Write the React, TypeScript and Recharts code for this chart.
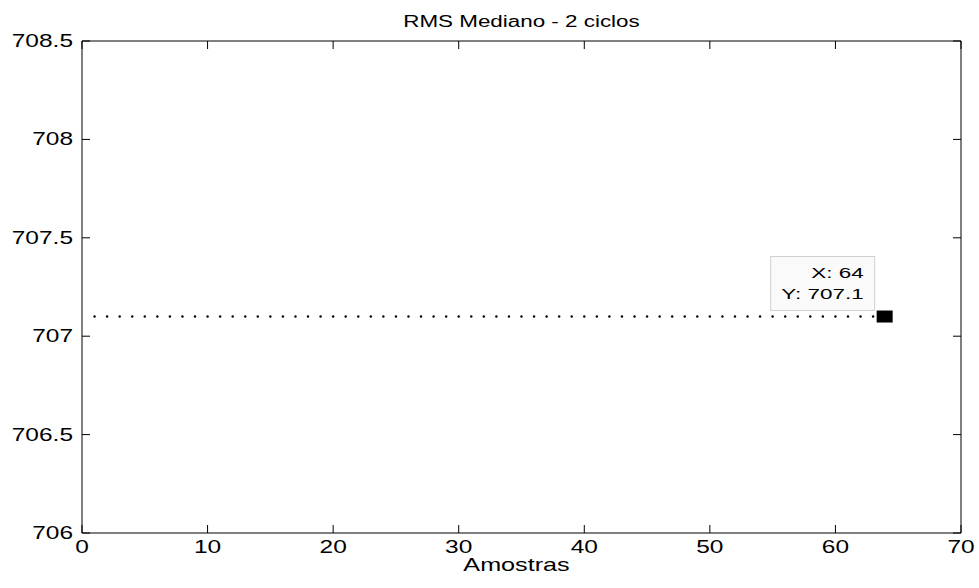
import { LineChart, Line, XAxis, YAxis, ReferenceDot } from "recharts";

// RMS value per sample (2-cycle median window)
const rmsValues = [
  707.1, 707.1, 707.1, 707.1, 707.1, 707.1, 707.1, 707.1,
  707.1, 707.1, 707.1, 707.1, 707.1, 707.1, 707.1, 707.1,
  707.1, 707.1, 707.1, 707.1, 707.1, 707.1, 707.1, 707.1,
  707.1, 707.1, 707.1, 707.1, 707.1, 707.1, 707.1, 707.1,
  707.1, 707.1, 707.1, 707.1, 707.1, 707.1, 707.1, 707.1,
  707.1, 707.1, 707.1, 707.1, 707.1, 707.1, 707.1, 707.1,
  707.1, 707.1, 707.1, 707.1, 707.1, 707.1, 707.1, 707.1,
  707.1, 707.1, 707.1, 707.1, 707.1, 707.1, 707.1, 707.1,
];
const xTicks = [0, 10, 20, 30, 40, 50, 60, 70];
const yTicks = [706, 706.5, 707, 707.5, 708, 708.5];
const tipX = 64;
const tipY = 707.1;

const data = rmsValues.map((v, i) => ({ sample: i + 1, rms: v }));

const W = 979;
const H = 588;
const PLOT_L = 82;
const PLOT_T = 41;
const PLOT_W = 879;
const PLOT_H = 492;
const PLOT_B = PLOT_T + PLOT_H;
const PLOT_R = PLOT_L + PLOT_W;
const TICK_LEN = 8;
const FONT = "'Liberation Sans', Arial, sans-serif";
const STRETCH = 1.4;

const YTick = (props: any) => {
  const { y, payload } = props;
  return (
    <g>
      <line x1={PLOT_L} x2={PLOT_L + TICK_LEN} y1={y} y2={y} stroke="#000" />
      <line x1={PLOT_R - TICK_LEN} x2={PLOT_R} y1={y} y2={y} stroke="#000" />
      <text
        transform={`translate(${PLOT_L - 9},${y + 6}) scale(${STRETCH},1)`}
        textAnchor="end"
        fontFamily={FONT}
        fontSize={17.5}
        fill="#000"
      >
        {payload.value}
      </text>
    </g>
  );
};

const XTick = (props: any) => {
  const { x, payload } = props;
  return (
    <g>
      <line x1={x} x2={x} y1={PLOT_B} y2={PLOT_B - TICK_LEN} stroke="#000" />
      <line x1={x} x2={x} y1={PLOT_T} y2={PLOT_T + TICK_LEN} stroke="#000" />
      <text
        transform={`translate(${x},${PLOT_B + 20}) scale(${STRETCH},1)`}
        textAnchor="middle"
        fontFamily={FONT}
        fontSize={17.5}
        fill="#000"
      >
        {payload.value}
      </text>
    </g>
  );
};

// axis title, plot title and the top/right frame lines
const Frame = () => {
  const cx = PLOT_L + PLOT_W / 2;
  return (
    <g>
      <line x1={PLOT_L} x2={PLOT_R} y1={PLOT_T} y2={PLOT_T} stroke="#000" />
      <line x1={PLOT_R} x2={PLOT_R} y1={PLOT_T} y2={PLOT_B} stroke="#000" />
      <text
        transform={`translate(${cx},${PLOT_T - 14}) scale(${STRETCH},1)`}
        textAnchor="middle"
        fontFamily={FONT}
        fontSize={16}
        fill="#000"
      >
        RMS Mediano - 2 ciclos
      </text>
      <text
        transform={`translate(${cx - 5},${PLOT_B + 38}) scale(${STRETCH},1)`}
        textAnchor="middle"
        fontFamily={FONT}
        fontSize={18}
        fill="#000"
      >
        Amostras
      </text>
    </g>
  );
};

const DataTip = (props: any) => {
  const { cx, cy } = props;
  const boxR = cx - 11;
  const boxB = cy - 6;
  return (
    <g>
      <rect x={boxR - 104} y={boxB - 54} width={104} height={54} fill="#fafafa" stroke="#d0d0d0" />
      <text
        transform={`translate(${boxR - 11},${boxB - 33}) scale(1.45,1)`}
        textAnchor="end"
        fontFamily={FONT}
        fontSize={15.5}
        fill="#000"
      >
        X: {tipX}
      </text>
      <text
        transform={`translate(${boxR - 11},${boxB - 12}) scale(1.45,1)`}
        textAnchor="end"
        fontFamily={FONT}
        fontSize={15.5}
        fill="#000"
      >
        Y: {tipY}
      </text>
      <rect x={cx - 9} y={cy - 6} width={16} height={12} fill="#000" />
    </g>
  );
};

export default function App() {
  return (
    <div style={{ position: "absolute", left: 0, top: 0, background: "#fff" }}>
      <LineChart
        width={W}
        height={H}
        data={data}
        margin={{ top: PLOT_T, right: W - PLOT_R, left: PLOT_L - 70, bottom: H - PLOT_B - 30 }}
      >
        <XAxis
          dataKey="sample"
          type="number"
          domain={[0, 70]}
          ticks={xTicks}
          allowDataOverflow
          height={30}
          tickLine={false}
          axisLine={{ stroke: "#000" }}
          tick={<XTick />}
          interval={0}
          label={<Frame />}
        />
        <YAxis
          type="number"
          domain={[706, 708.5]}
          ticks={yTicks}
          allowDataOverflow
          width={70}
          tickLine={false}
          axisLine={{ stroke: "#000" }}
          tick={<YTick />}
          interval={0}
        />
        <Line
          dataKey="rms"
          stroke="none"
          dot={{ r: 1.2, fill: "#000", stroke: "none" }}
          activeDot={false}
          isAnimationActive={false}
        />
        <ReferenceDot x={tipX} y={tipY} r={0} shape={<DataTip />} ifOverflow="visible" />
      </LineChart>
    </div>
  );
}
